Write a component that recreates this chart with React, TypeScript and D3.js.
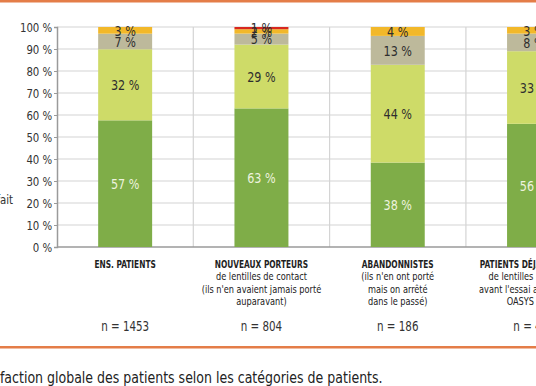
import React, { useEffect, useRef } from 'react';
import * as d3 from 'd3';

const categories = ['ens', 'nouveaux', 'abandon', 'deja'];
const categoryLines = [
  ['ENS. PATIENTS'],
  ['NOUVEAUX PORTEURS', 'de lentilles de contact', "(ils n'en avaient jamais porté", 'auparavant)'],
  ['ABANDONNISTES', "(ils n'en ont porté", 'mais on arrêté', 'dans le passé)'],
  ['PATIENTS DÉJÀ PORTEURS', 'de lentilles de contact', "avant l'essai avec ACUVUE", 'OASYS (SiHy)'],
];
const sampleSizes = ['n = 1453', 'n = 804', 'n = 186', 'n = 463'];

const seriesKeys = ['tres', 'satisfait', 'neutre', 'peu', 'pas'];
const tresSatisfait = [57, 63, 38, 56];
const satisfait = [32, 29, 44, 33];
const neutre = [7, 5, 13, 8];
const peuSatisfait = [3, 2, 4, 3];
const pasSatisfait = [0, 1, 0, 0];

const yTicks = [0, 10, 20, 30, 40, 50, 60, 70, 80, 90, 100];

const colors: Record<string, string> = {
  tres: '#7fad48',
  satisfait: '#cedb68',
  neutre: '#bdb99b',
  peu: '#f2b82a',
  pas: '#d8271f',
};

const FONT = "'DejaVu Sans Condensed', 'DejaVu Sans', sans-serif";

const App: React.FC = () => {
  const svgRef = useRef<SVGSVGElement>(null);

  useEffect(() => {
    const W = 536, H = 386;
    const svg = d3.select(svgRef.current).attr('width', W).attr('height', H);
    svg.selectAll('*').remove();

    // narrow text: the original uses a condensed DIN-like face
    const narrow = (px: number, py: number, txt: string, size: number, sx: number, opts: any = {}) =>
      svg.append('text')
        .attr('transform', `translate(${px},${py}) scale(${sx},1)`)
        .attr('text-anchor', opts.anchor || 'middle')
        .attr('dy', opts.dy || null)
        .attr('font-family', FONT)
        .attr('font-size', size)
        .attr('font-weight', opts.bold ? 'bold' : 'normal')
        .attr('fill', opts.fill || '#2a2a2a')
        .text(txt);

    const rows = categories.map((c, i) => ({
      cat: c,
      tres: tresSatisfait[i],
      satisfait: satisfait[i],
      neutre: neutre[i],
      peu: peuSatisfait[i],
      pas: pasSatisfait[i],
    }));

    const axisX = 57;
    const x = d3.scaleBand()
      .domain(categories)
      .range([axisX, axisX + 136.3 * categories.length])
      .paddingInner(0.604)
      .paddingOuter(0.302);

    const y = d3.scaleLinear().domain([0, 1]).range([247, 27]);

    // orange rules
    svg.append('rect').attr('x', 0).attr('y', 0).attr('width', W).attr('height', 2.5).attr('fill', '#e47d48');
    svg.append('rect').attr('x', 0).attr('y', 346).attr('width', W).attr('height', 2.5).attr('fill', '#e47d48');

    // grid
    const g = svg.append('g');
    g.selectAll('.hgrid')
      .data(yTicks.filter(t => t > 0))
      .enter()
      .append('line')
      .attr('x1', axisX)
      .attr('x2', W)
      .attr('y1', d => y(d / 100))
      .attr('y2', d => y(d / 100))
      .attr('stroke', '#d4d4d4')
      .attr('stroke-width', 1.2);

    const step = x.step();
    g.selectAll('.vgrid')
      .data(categories.slice(1))
      .enter()
      .append('line')
      .attr('x1', d => (x(d) || 0) + x.bandwidth() / 2 - step / 2)
      .attr('x2', d => (x(d) || 0) + x.bandwidth() / 2 - step / 2)
      .attr('y1', y(1))
      .attr('y2', y(0))
      .attr('stroke', '#d4d4d4')
      .attr('stroke-width', 1.2);

    // axis
    const axis = svg.append('g')
      .attr('transform', `translate(${axisX},0)`)
      .call(d3.axisLeft(y).tickValues(yTicks.map(t => t / 100)).tickSize(3).tickFormat(d => `${Math.round(+d * 100)} %`));
    axis.select('.domain').attr('stroke', '#9a9a9a').attr('stroke-width', 1.5);
    axis.selectAll('.tick line').attr('stroke', '#9a9a9a');
    axis.selectAll('.tick text')
      .attr('font-family', FONT)
      .attr('font-size', 13)
      .attr('fill', '#333')
      .attr('x', -5.5)
      .attr('transform', 'scale(0.87,1)');

    svg.append('line')
      .attr('x1', axisX).attr('x2', W)
      .attr('y1', y(0)).attr('y2', y(0))
      .attr('stroke', '#9a9a9a').attr('stroke-width', 1.5);

    // bars
    const stack = d3.stack<any>().keys(seriesKeys).offset(d3.stackOffsetExpand);
    const series = stack(rows);

    const layers = svg.selectAll('.layer')
      .data(series)
      .enter()
      .append('g')
      .attr('fill', d => colors[d.key]);

    layers.selectAll('rect')
      .data(d => d)
      .enter()
      .append('rect')
      .attr('x', d => x(d.data.cat) || 0)
      .attr('width', x.bandwidth())
      .attr('y', d => y(d[1]))
      .attr('height', d => y(d[0]) - y(d[1]));

    series.forEach(s => {
      s.filter(d => d.data[s.key] > 0).forEach(d => {
        narrow(
          (x(d.data.cat) || 0) + x.bandwidth() / 2,
          y((d[0] + d[1]) / 2),
          `${d.data[s.key]} %`,
          14.5,
          0.86,
          { dy: '0.36em', fill: s.key === 'tres' ? '#eef3df' : '#2e2e2e' }
        );
      });
    });

    // category labels
    categories.forEach((c, i) => {
      const cx = (x(c) || 0) + x.bandwidth() / 2;
      categoryLines[i].forEach((line, j) => {
        if (j === 0) narrow(cx, 268, line, 11, 0.75, { bold: true, fill: '#1e1e1e' });
        else narrow(cx, 268 + j * 12.4, line, 11, 0.83, { fill: '#222' });
      });
      narrow(cx, 331, sampleSizes[i], 14, 0.82, { fill: '#333' });
    });

    // cropped legend remnant
    narrow(13, 204, 'Très satisfait', 13, 0.87, { anchor: 'end', fill: '#333' });

    // caption, cropped at the left edge like the original
    const cap = svg.append('text')
      .attr('font-family', FONT)
      .attr('font-size', 15)
      .attr('fill', '#222')
      .text('Satisfaction globale des patients selon les catégories de patients.');
    const node = cap.node() as SVGTextElement;
    const full = node.getComputedTextLength();
    const pre = node.getSubStringLength(0, 5);
    const sx = 383 / (full - pre);
    cap.attr('transform', `translate(${-pre * sx},383) scale(${sx},1)`);
  }, []);

  return <svg ref={svgRef} style={{ position: 'absolute', left: 0, top: 0 }}></svg>;
};

export default App;
